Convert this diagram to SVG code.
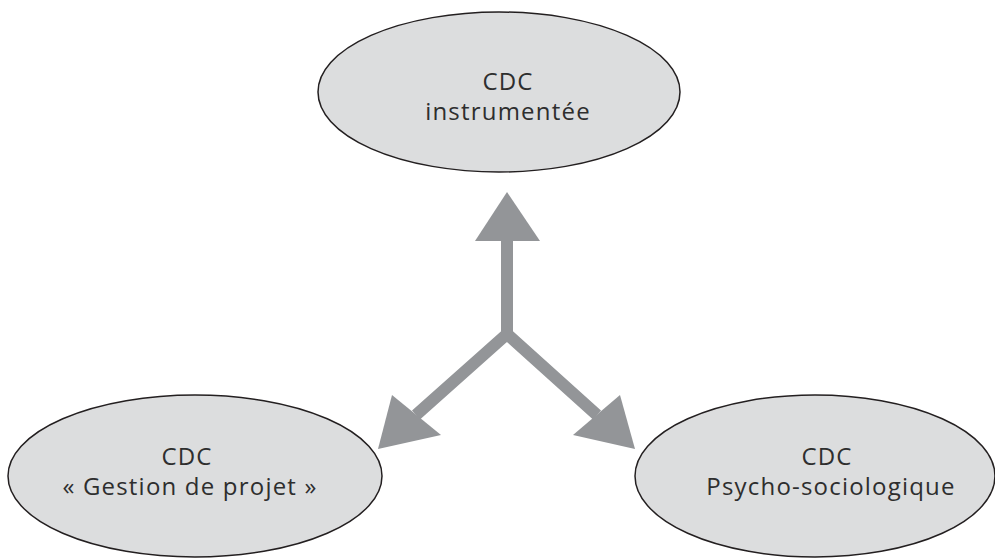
<svg xmlns="http://www.w3.org/2000/svg" width="995" height="559" viewBox="0 0 995 559">
<style>
.node{fill:#dcddde;stroke:#231f20;stroke-width:1.5}
.lbl{font-family:"Open Sans","Liberation Sans",sans-serif;font-size:24px;letter-spacing:1.2px;fill:#2e2e2e;text-anchor:middle}
.shaft{fill:none;stroke:#939598;stroke-width:12;stroke-linejoin:miter;stroke-linecap:butt}
.head{fill:#939598}
</style>
<rect width="995" height="559" fill="#ffffff"/>
<g id="node-instrumentee">
<ellipse class="node" cx="499" cy="92" rx="181" ry="80"/>
<text class="lbl" x="508" y="90">CDC</text>
<text class="lbl" x="508" y="120">instrumentée</text>
</g>
<g id="node-gestion">
<ellipse class="node" cx="195" cy="476" rx="187" ry="81"/>
<text class="lbl" x="187" y="465">CDC</text>
<text class="lbl" x="190" y="495">« Gestion de projet »</text>
</g>
<g id="node-psycho">
<ellipse class="node" cx="815" cy="476" rx="180" ry="81"/>
<text class="lbl" x="827" y="465">CDC</text>
<text class="lbl" x="831" y="495">Psycho-sociologique</text>
</g>
<g id="connectors">
<path class="shaft" d="M507,241 L507,336"/>
<path class="shaft" d="M416,415 L507,334 L597,415"/>
<polygon class="head" points="507,192 475,241 540,241"/>
<polygon class="head" points="378,449 392,395 441,435"/>
<polygon class="head" points="635,449 620,395 573,435"/>
</g>
</svg>
